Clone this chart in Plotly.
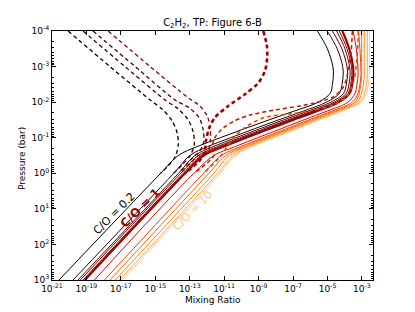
import plotly.graph_objects as go

# ---- data (log10 values) ----
# common pressure grid for the solid curves, log10(bar)
p_exp = [3, 0, -0.5, -0.75, -1, -1.25, -1.5, -1.75, -2, -2.25, -2.5, -2.75, -3, -3.5, -4]

# solid curves: log10(mixing ratio) at each pressure of p_exp
mr_s0 = [-20.59, -14.69, -13.67, -12.57, -11.23, -9.84, -8.41, -6.93, -5.53, -4.84, -4.72, -4.66, -4.69, -5.01, -5.59]
mr_s1 = [-19.78, -13.93, -12.99, -11.96, -10.63, -9.25, -7.85, -6.40, -5.06, -4.31, -4.16, -4.09, -4.12, -4.44, -5.02]
mr_s2 = [-19.49, -13.65, -12.70, -11.64, -10.32, -8.94, -7.56, -6.12, -4.81, -4.06, -3.91, -3.84, -3.87, -4.17, -4.72]
mr_s3 = [-19.35, -13.52, -12.50, -11.39, -10.07, -8.70, -7.32, -5.90, -4.61, -3.91, -3.76, -3.69, -3.72, -3.99, -4.47]
mr_s4 = [-19.20, -13.38, -12.35, -11.23, -9.91, -8.54, -7.17, -5.76, -4.48, -3.80, -3.66, -3.59, -3.61, -3.87, -4.32]
mr_s5 = [-19.09, -13.27, -12.20, -11.03, -9.73, -8.36, -7.00, -5.59, -4.34, -3.71, -3.57, -3.50, -3.52, -3.74, -4.14]
mr_s6 = [-18.54, -12.76, -11.60, -10.36, -9.06, -7.71, -6.38, -5.01, -3.81, -3.40, -3.29, -3.23, -3.24, -3.33, -3.51]
mr_s7 = [-17.95, -12.20, -11.17, -10.04, -8.75, -7.40, -6.09, -4.73, -3.56, -3.23, -3.12, -3.06, -3.07, -3.12, -3.20]
mr_s8 = [-17.63, -11.89, -10.92, -9.85, -8.56, -7.22, -5.92, -4.56, -3.41, -3.16, -3.07, -3.02, -3.02, -3.02, -3.02]
mr_s9 = [-17.33, -11.61, -10.71, -9.69, -8.41, -7.06, -5.77, -4.42, -3.28, -3.02, -2.92, -2.87, -2.87, -2.87, -2.87]
mr_s10 = [-17.08, -11.37, -10.49, -9.50, -8.22, -6.88, -5.59, -4.25, -3.13, -2.85, -2.74, -2.69, -2.69, -2.69, -2.69]
mr_s11 = [-16.93, -11.23, -10.36, -9.37, -8.09, -6.76, -5.48, -4.14, -3.03, -2.74, -2.63, -2.57, -2.57, -2.57, -2.57]

# dashed curves: (log10 mixing ratio, log10 pressure)
d0_mr = [-20.07, -17.63, -15.30, -14.55, -14.02, -13.73, -13.67, -13.85, -14.31, -14.69]
d0_p = [-4, -3, -2.06, -1.78, -1.47, -1.13, -0.80, -0.46, -0.18, 0]
d1_mr = [-19.20, -16.76, -14.43, -13.67, -13.09, -12.80, -12.74, -12.98, -13.44, -13.93]
d1_p = [-4, -3, -2.06, -1.81, -1.50, -1.16, -0.80, -0.49, -0.24, 0]
d2_mr = [-18.62, -16.17, -13.85, -13.03, -12.45, -12.22, -12.19, -12.45, -12.70, -13.65]
d2_p = [-4, -3, -2.06, -1.84, -1.56, -1.22, -0.88, -0.60, -0.5, 0]
d3_mr = [-17.74, -15.30, -13.09, -12.40, -11.99, -11.81, -11.81, -11.93, -12.50, -13.52]
d3_p = [-4, -3, -2.12, -1.89, -1.61, -1.28, -0.94, -0.66, -0.5, 0]
d4_mr = [-8.73, -8.53, -8.50, -8.62, -9.02, -9.78, -10.77, -11.52, -11.87, -12.05, -12.20, -13.27]
d4_p = [-4, -3.61, -3.30, -2.90, -2.54, -2.23, -1.89, -1.58, -1.28, -0.94, -0.5, 0]
d5_mr = [-3.56, -3.62, -3.79, -4.08, -4.66, -6.00, -8.03, -9.49, -10.42, -11.12, -11.58, -11.70, -11.60, -12.76]
d5_p = [-4, -3.47, -2.90, -2.43, -2.15, -1.95, -1.78, -1.64, -1.47, -1.25, -0.97, -0.71, -0.5, 0]
d6_mr = [-3.21, -3.27, -3.44, -3.85, -4.66, -6.41, -8.73, -9.66, -10.30, -10.77, -11.17, -12.20]
d6_p = [-4, -3.33, -2.68, -2.17, -1.92, -1.72, -1.56, -1.33, -1.08, -0.80, -0.5, 0]

x_tick_exp = [-21, -19, -17, -15, -13, -11, -9, -7, -5, -3]
y_tick_exp = [-4, -3, -2, -1, 0, 1, 2, 3]

labels = ["C/O = 0.2", "C/O = 1", "C/O = 10"]
label_x_exp = [-17.40, -15.88, -12.80]
label_p_exp = [1.12, 0.97, 1.06]

# ---- styles ----
solid_colors = ["#000000", "#2e0000", "#4d0000", "#670000", "#820000", "#a10000",
                "#cc1100", "#f14200", "#ff6600", "#ff850a", "#ffa347", "#ffc690"]
solid_widths = [1, 1, 1, 1, 1, 2.2, 1, 1, 1, 1, 1, 1]

fig = go.Figure()
P = [10 ** v for v in p_exp]
solids = [mr_s0, mr_s1, mr_s2, mr_s3, mr_s4, mr_s5, mr_s6, mr_s7, mr_s8, mr_s9, mr_s10, mr_s11]
for s, c, w in zip(solids, solid_colors, solid_widths):
    fig.add_trace(go.Scatter(x=[10 ** v for v in s], y=P, mode="lines",
                             line=dict(color=c, width=w, shape="spline", smoothing=1.0),
                             hoverinfo="skip"))

dashed = [(d0_mr, d0_p, "#000000", 1.3), (d1_mr, d1_p, "#2e0000", 1.3),
          (d2_mr, d2_p, "#4d0000", 1.3), (d3_mr, d3_p, "#8a0000", 1.3),
          (d4_mr, d4_p, "#a10000", 2.6), (d5_mr, d5_p, "#cc1100", 1.5),
          (d6_mr, d6_p, "#f14200", 1.5)]
for mr, pp, c, w in dashed:
    fig.add_trace(go.Scatter(x=[10 ** v for v in mr], y=[10 ** v for v in pp], mode="lines",
                             line=dict(color=c, width=w, dash="4px,3px", shape="spline", smoothing=0.8),
                             hoverinfo="skip"))

label_colors = ["#000000", "#a10000", "#ffc690"]
label_bold = [False, True, False]
for t, lx, lp, c, b in zip(labels, label_x_exp, label_p_exp, label_colors, label_bold):
    fig.add_annotation(x=lx, y=lp, text=("<b>%s</b>" % t) if b else t, showarrow=False,
                       textangle=-45, font=dict(color=c, size=11 if not b else 12, family="DejaVu Sans"))

# axis titles placed as annotations (paper coordinates)
fig.add_annotation(xref="paper", yref="paper", x=0.5, y=-0.08, text="Mixing Ratio",
                   showarrow=False, xanchor="center", yanchor="middle", font=dict(size=9))
fig.add_annotation(xref="paper", yref="paper", x=-0.0935, y=0.49, text="Pressure (bar)",
                   showarrow=False, textangle=-90, xanchor="center", yanchor="middle", font=dict(size=9))

fig.update_layout(
    width=415, height=312,
    margin=dict(l=52, r=42, t=31, b=32, autoexpand=False),
    paper_bgcolor="white", plot_bgcolor="white",
    showlegend=False,
    font=dict(family="DejaVu Sans", size=9, color="black"),
    title=dict(text="C<sub>2</sub>H<sub>2</sub>, TP: Figure 6-B", x=0.512, xanchor="center",
               y=1 - 22 / 312, yanchor="middle", yref="container",
               font=dict(size=10, family="DejaVu Sans", color="black")),
)
fig.update_xaxes(type="log", range=[-21, -2.36], showgrid=False, zeroline=False, automargin=False,
                 showline=True, linecolor="black", linewidth=1, mirror="ticks",
                 ticks="inside", ticklen=4, tickcolor="black",
                 tickmode="array", tickvals=[10 ** v for v in x_tick_exp],
                 ticktext=["10<sup>%d</sup>" % v for v in x_tick_exp],
                 tickfont=dict(size=9))
minor_vals = [m * 10 ** e for e in range(-4, 3) for m in range(2, 10)]
fig.update_yaxes(type="log", range=[3, -4], showgrid=False, zeroline=False, automargin=False,
                 showline=True, linecolor="black", linewidth=1, mirror="ticks",
                 ticks="inside", ticklen=4, tickcolor="black",
                 tickmode="array", tickvals=[10 ** v for v in y_tick_exp],
                 ticktext=["10<sup>%d</sup>" % v for v in y_tick_exp],
                 tickfont=dict(size=9),
                 minor=dict(ticks="inside", ticklen=2, tickcolor="black",
                            tickmode="array", tickvals=minor_vals, showgrid=False))

fig.write_html("out.html", config={"displayModeBar": False},
               post_script="document.body.style.margin='0';document.body.style.padding='0';")
